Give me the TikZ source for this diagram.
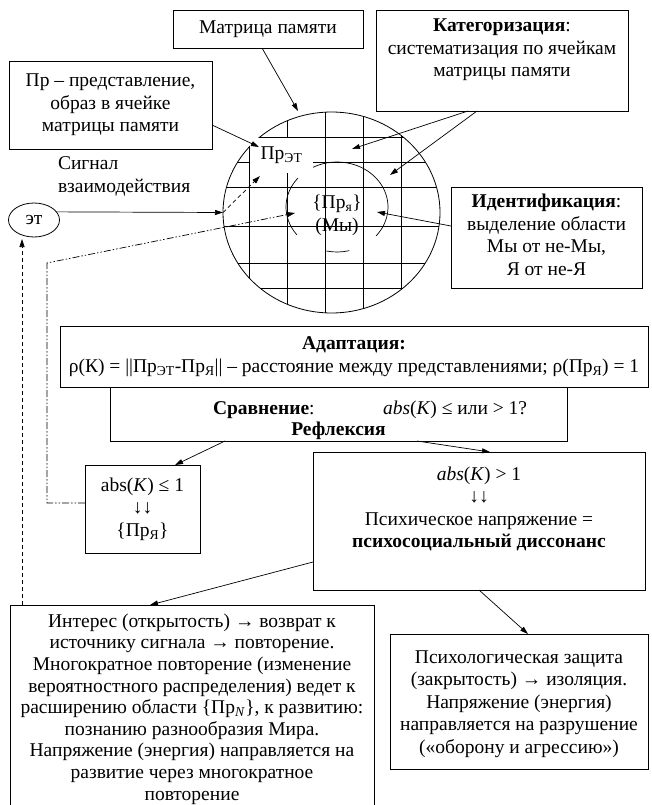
\documentclass[tikz,border=0pt]{standalone}
\usepackage{fontspec}
\setmainfont{Liberation Serif}
\usetikzlibrary{arrows.meta,shapes.geometric,calc}
\begin{document}
\begin{tikzpicture}[x=1pt,y=-1pt,
  every node/.style={font=\fontsize{19.5}{22.5}\selectfont, inner sep=0pt, outer sep=0pt},
  box/.style={draw, line width=0.8pt, align=center},
  txt/.style={align=center},
  con/.style={line width=0.7pt, -{Triangle[length=8pt,width=5pt]}},
  dashline/.style={dash pattern=on 4pt off 3pt},
  dashdotdot/.style={dash pattern=on 7pt off 2pt on 1.5pt off 2pt on 1.5pt off 2pt},
  gridline/.style={line width=0.8pt}]
\useasboundingbox (0,0) rectangle (651,805);
\begin{scope}
\clip (0,0) rectangle (651,805);

% memory circle with grid
\node[ellipse, draw, line width=0.8pt, minimum width=217, minimum height=201] (circ) at (331.5,212.5) {};
\begin{scope}
\clip (331.5,212.5) ellipse [x radius=108.5, y radius=100.5];
\foreach \x in {249,287,325,363,401} \draw[gridline] (\x,100) -- (\x,320);
\foreach \y in {137,162,187,226,263,288} \draw[gridline] (210,\y) -- (450,\y);
\end{scope}
\node[fill=white, minimum width=63, minimum height=35] (prlab) at (281.5,155.5) {Пр\textsubscript{ЭТ}};

% inner region arcs
\draw[line width=0.7pt] ([shift={(-140:51 and 45)}]337,207) arc[start angle=-140, end angle=-218, x radius=51, y radius=45];
\draw[line width=0.7pt] ([shift={(-118:51 and 45)}]337,207) arc[start angle=-118, end angle=40, x radius=51, y radius=45];
\draw[line width=0.7pt] ([shift={(102:51 and 45)}]337,207) arc[start angle=102, end angle=76, x radius=51, y radius=45];
\node[txt] (prya) at (337,204) {\{Пр\textsubscript{я}\}};
\node[txt] (my) at (337,227) {(Мы)};

% top boxes
\node[box, minimum width=190, minimum height=38] (matr) at (268,29) {Матрица памяти};
\node[box, minimum width=203, minimum height=88] (pr) at (110.5,105) {Пр – представление,\\образ в ячейке\\матрицы памяти};
\node[box, minimum width=252, minimum height=101] (kat) at (502,60.5) {};
\node[txt, anchor=north] (katt) at (502,19) {\textbf{Категоризация}:\\систематизация по ячейкам\\матрицы памяти};
\node[box, minimum width=191, minimum height=101] (ident) at (546.5,237.5) {};
\node[txt] (identt) at (546.5,235) {\textbf{Идентификация}:\\выделение области\\Мы от не-Мы,\\Я от не-Я};

% signal
\node[align=left, anchor=north west] (sig) at (58,157) {Сигнал\\взаимодействия};
\node[ellipse, draw, line width=0.8pt, minimum width=51, minimum height=34] (et) at (34,220) {эт};

% middle boxes
\node[box, minimum width=588, minimum height=61] (adapt) at (354,356.5) {\textbf{Адаптация:}\\ρ(К) = ||Пр\textsubscript{ЭТ}-Пр\textsubscript{Я}|| – расстояние между представлениями; ρ(Пр\textsubscript{Я}) = 1};
\node[box, minimum width=457, minimum height=54] (srav) at (338.5,414) {};
\node[anchor=west] (sravt) at (213,410) {\textbf{Сравнение}:};
\node[anchor=west] (sravq) at (383,410) {\textit{abs}(\textit{K}) ≤ или > 1?};
\node (refl) at (338.5,431) {\textbf{Рефлексия}};

\node[box, minimum width=115, minimum height=88] (abs1) at (142.5,509) {abs(\textit{K}) ≤ 1\\↓↓\\\{Пр\textsubscript{Я}\}};
\node[box, minimum width=332, minimum height=138] (abs2) at (479,521) {};
\node[txt] (abs2t) at (479,509) {\textit{abs}(\textit{K}) > 1\\↓↓\\Психическое напряжение =\\\textbf{психосоциальный диссонанс}};

% bottom boxes
\node[box, minimum width=364, minimum height=230, anchor=north west] (leftb) at (10,605) {};
\node[txt, font=\fontsize{19.5}{21.6}\selectfont] (leftt) at (192,709) {Интерес (открытость) → возврат к\\источнику сигнала → повторение.\\Многократное повторение (изменение\\вероятностного распределения) ведет к\\расширению области \{Пр\textsubscript{\textit{N}}\}, к развитию:\\познанию разнообразия Мира.\\Напряжение (энергия) направляется на\\развитие через многократное\\повторение};
\node[box, minimum width=258, minimum height=135, anchor=north west] (rightb) at (390,634) {};
\node[txt] (rightt) at (519,704) {Психологическая защита\\(закрытость) → изоляция.\\Напряжение (энергия)\\направляется на разрушение\\(«оборону и агрессию»)};

% target coordinates
\coordinate (tA) at (298,111);
\coordinate (tB) at (259,147);
\coordinate (tK1) at (352,149);
\coordinate (tK2) at (390,175);
\coordinate (tI) at (377,212);
\coordinate (tC) at (260,176);
\coordinate (dd1) at (47,503);
\coordinate (dd2) at (47,263);
\coordinate (tD) at (295,213);
\coordinate (ds) at (22,605);
\coordinate (tE) at (22,239);

% connectors
\draw[con] ($(matr.south)+(-6,0)$) -- (tA);
\draw[con] ($(pr.east)+(0,20)$) -- (tB);
\draw[con] ($(kat.south)+(-34,0)$) -- (tK1);
\draw[con] ($(kat.south)+(-25,0)$) -- (tK2);
\draw[con] ($(ident.west)+(0,-11.5)$) -- (tI);
\draw[con] (et.20) -- (circ.west);
\draw[con, dashline] (circ.west) -- (tC);
\draw[con, dashdotdot] ($(abs1.west)+(0,-6)$) -- (dd1) -- (dd2) -- (tD);
\draw[con, dashline] (ds) -- (tE);
\draw[con] ($(srav.south)+(-113.5,0)$) -- ($(abs1.north)+(32.5,0)$);
\draw[con] ($(srav.south)+(78.5,0)$) -- ($(abs2.north)+(11,0)$);
\draw[con] ($(abs2.west)+(0,41)$) -- ($(leftb.north west)+(140,0)$);
\draw[con] (abs2.south) -- ($(rightb.north west)+(138,0)$);
\end{scope}
\end{tikzpicture}
\end{document}
